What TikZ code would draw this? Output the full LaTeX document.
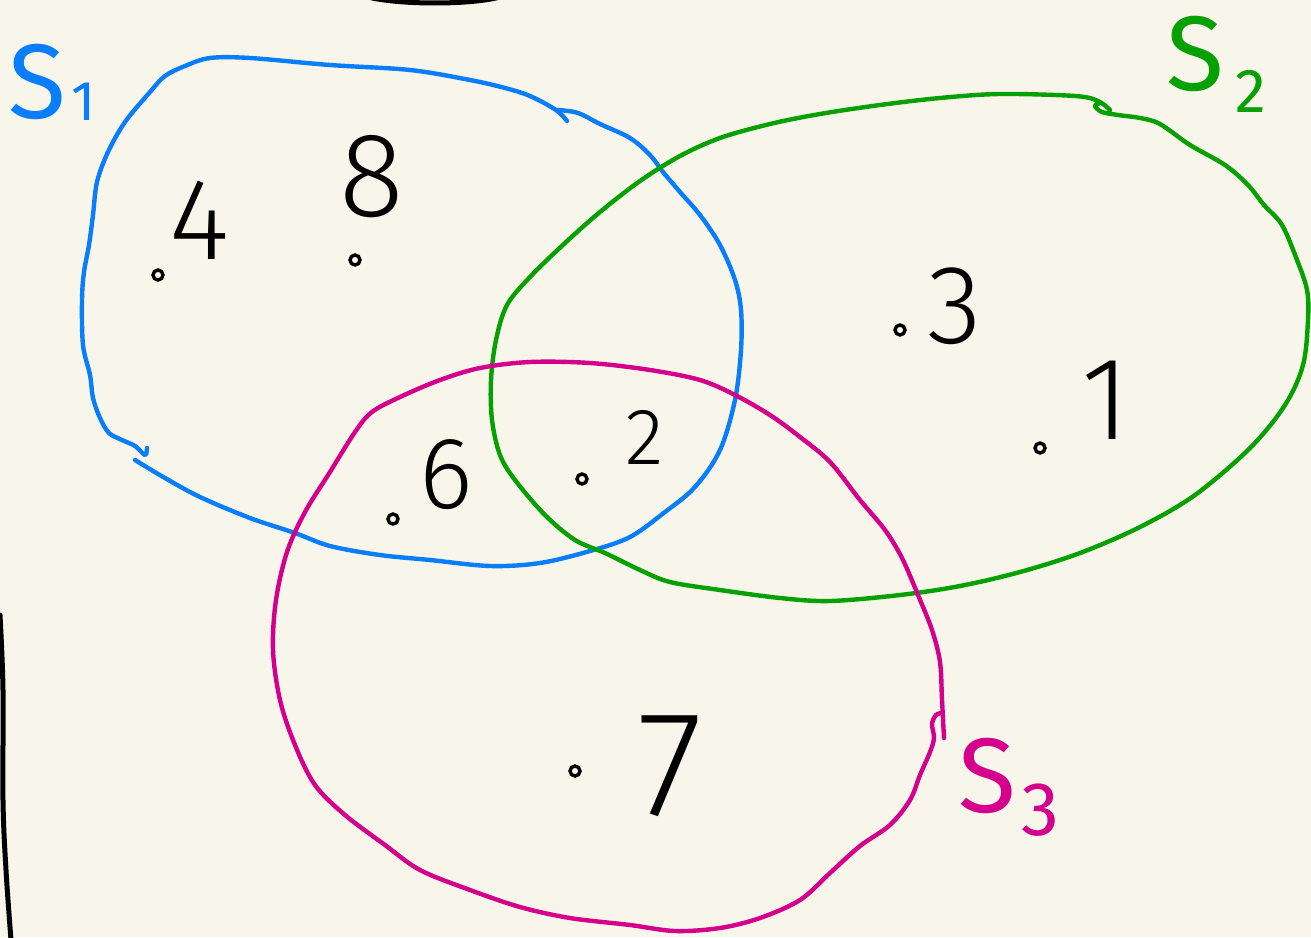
\documentclass[tikz,border=0pt]{standalone}
\usepackage{fontspec}
\newfontfamily\hand{Fira Sans Light}
\newfontfamily\handl{Fira Sans}
\definecolor{bg}{HTML}{F8F6EA}
\definecolor{sblue}{HTML}{0A7EFA}
\definecolor{sgreen}{HTML}{06A000}
\definecolor{smag}{HTML}{D4008C}
\begin{document}
\begin{tikzpicture}[x=1pt,y=-1pt,
  setline/.style={line width=4.4pt,line cap=round,line join=round},
  edge/.style={line width=5pt,line cap=round,black},
  digit/.style={inner sep=0pt,text=black,font={\hand\fontsize{#1}{#1}\selectfont}},
  dotm/.style={circle,draw=black,line width=3.4pt,inner sep=0pt,minimum size=10pt},
  lab/.style={inner sep=0pt,anchor=base west,text=#1,font={\handl\fontsize{106}{106}\selectfont}}]
\fill[bg] (0,0) rectangle (1311,937);
\useasboundingbox (0,0) rectangle (1311,937);
% black page edges
\draw[edge] (368,-3) .. controls (400,5) and (470,5) .. (500,-3);
\draw[edge] plot[smooth,tension=0.6] coordinates {(0,615) (3,690) (3,800) (6,870) (11,940)};
% S1 (blue)
\draw[setline,sblue] plot[smooth,tension=0.55] coordinates {(567,121) (556,110) (530,96) (505,88) (470,80) (410,70) (330,65) (250,58) (210,58) (185,66) (165,76) (150,92) (125,122) (108,152) (97,182) (93,215) (89,245) (84,272) (82,300) (83,345) (90,375) (93,398) (100,418) (109,433) (122,440) (135,446) (145,455) (147,448)};
\draw[setline,sblue] plot[smooth,tension=0.55] coordinates {(135,460) (165,478) (200,497) (250,518) (295,533) (330,546) (380,555) (430,560) (490,566) (540,563) (590,551) (630,537) (665,512) (695,487) (720,450) (735,400) (741,350) (741,310) (735,280) (720,245) (700,215) (680,192) (663,172) (650,155) (630,138) (600,124) (578,113) (558,110)};
% S2 (green)
\draw[setline,sgreen] plot[smooth,tension=0.55] coordinates {(1110,110) (1098,101) (1075,96) (1000,94) (940,98) (880,105) (820,114) (770,124) (720,138) (680,156) (640,181) (600,212) (565,243) (530,277) (507,305) (496,340) (491,380) (492,420) (500,455) (515,480) (545,515) (575,540) (605,553) (640,570) (670,582) (720,590) (780,598) (830,601) (900,595) (960,586) (1020,572) (1080,553) (1140,527) (1195,495) (1250,448) (1285,405) (1303,365) (1308,320) (1307,290) (1297,260) (1282,225) (1264,205) (1248,185) (1225,165) (1190,145) (1160,124) (1140,118) (1118,115) (1102,112) (1095,106) (1100,103)};
% S3 (magenta)
\draw[setline,smag] plot[smooth,tension=0.55] coordinates {(944,738) (942,700) (940,662) (932,630) (918,595) (902,558) (885,530) (860,500) (830,462) (800,437) (770,415) (735,395) (700,380) (650,370) (590,363) (530,362) (480,368) (440,380) (400,397) (372,412) (355,432) (330,472) (305,512) (287,552) (276,600) (273,650) (280,700) (295,745) (315,785) (345,815) (385,845) (420,870) (470,890) (520,907) (570,918) (630,925) (675,931) (720,928) (760,918) (800,900) (830,873) (860,846) (890,825) (910,800) (920,775) (930,752) (934,738) (932,724) (936,715) (942,713)};
% labels
\node[lab=sblue] (s1) at (8,118) {S\hspace{6pt}\raisebox{-2pt}{\fontsize{56}{56}\selectfont 1}};
\node[lab=sgreen] (s2) at (1166,90) {S\hspace{12pt}\raisebox{-22pt}{\fontsize{62}{62}\selectfont 2}};
\node[lab=smag] (s3) at (958,812) {S\hspace{6pt}\raisebox{-23pt}{\fontsize{76}{76}\selectfont 3}};
% elements
\node[dotm] (p4) at (158,275) {};
\node[digit=116] (n4) at (200,220) {4};
\node[dotm] (p8) at (355,260) {};
\node[digit=120] (n8) at (372,177) {8};
\node[dotm] (p3) at (900,330) {};
\node[digit=112] (n3) at (955,306) {3};
\node[dotm] (p1) at (1040,448) {};
\node[digit=118] (n1) at (1106,400) {1};
\node[dotm] (p6) at (393,519) {};
\node[digit=102] (n6) at (446,475) {6};
\node[dotm] (p2) at (582,479) {};
\node[digit=80] (n2) at (645,437) {2};
\node[dotm] (p7) at (575,771) {};
\node[digit=150] (n7) at (670,766) {7};
\end{tikzpicture}
\end{document}
